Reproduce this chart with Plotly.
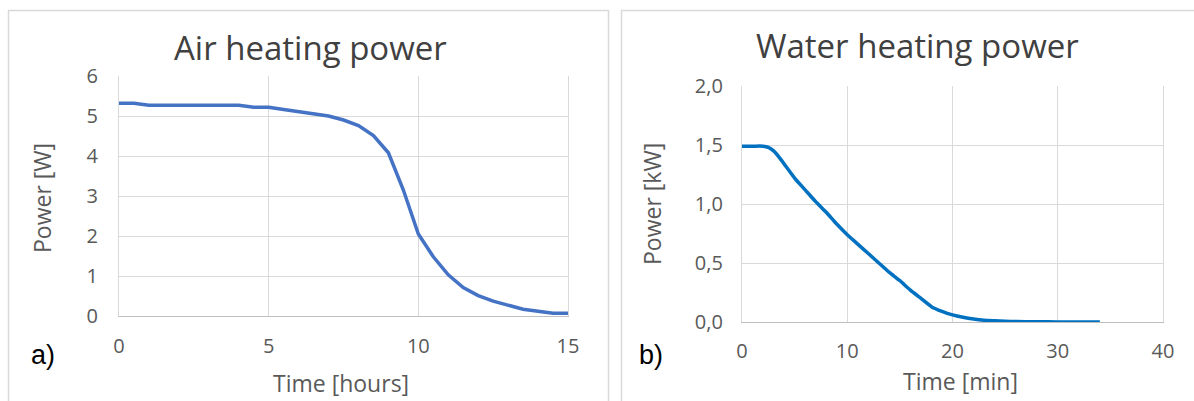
import plotly.graph_objects as go

W, H = 1194, 401

# ---- data ----
air_time_h = [0, 0.5, 1, 1.5, 2, 2.5, 3, 3.5, 4, 4.5, 5, 5.5, 6, 6.5, 7, 7.5, 8, 8.5, 9,
              9.5, 10, 10.5, 11, 11.5, 12, 12.5, 13, 13.5, 14, 14.5, 15]
air_power_w = [5.32, 5.32, 5.27, 5.27, 5.27, 5.27, 5.27, 5.27, 5.27, 5.22, 5.22, 5.16, 5.11, 5.06, 5.0,
               4.9, 4.76, 4.51, 4.08, 3.15, 2.05, 1.48, 1.03, 0.71, 0.51, 0.37, 0.26, 0.17, 0.12, 0.07, 0.07]

water_time_min = [0, 1, 2, 2.5, 3, 3.5, 4, 5, 6, 7, 8, 9, 10, 11, 12, 13, 14, 15, 16, 17,
                  18, 19, 20, 21, 22, 23, 24, 25, 26, 28, 30, 32, 34]
water_power_kw = [1.49, 1.49, 1.49, 1.48, 1.45, 1.40, 1.34, 1.22, 1.12, 1.02, 0.93, 0.83, 0.74, 0.66,
                  0.58, 0.50, 0.42, 0.35, 0.27, 0.20, 0.13, 0.09, 0.06, 0.04, 0.025, 0.015, 0.01,
                  0.006, 0.004, 0.002, 0.001, 0.0, 0.0]

air_xticks = [0, 5, 10, 15]
air_yticks = [0, 1, 2, 3, 4, 5, 6]
water_xticks = [0, 10, 20, 30, 40]
water_yticks = [0.0, 0.5, 1.0, 1.5, 2.0]


def px_x(p):
    return p / W


def px_y(p):
    return 1 - p / H


FONT = "Open Sans"
GRID = "#D9D9D9"
TICKC = "#595959"

fig = go.Figure()
fig.add_trace(go.Scatter(x=air_time_h, y=air_power_w, mode="lines",
                         line=dict(color="#4472C4", width=3.5), xaxis="x", yaxis="y",
                         showlegend=False, hoverinfo="skip"))
fig.add_trace(go.Scatter(x=water_time_min, y=water_power_kw, mode="lines",
                         line=dict(color="#0070C0", width=3.5, shape="spline", smoothing=0.6),
                         xaxis="x2", yaxis="y2", showlegend=False, hoverinfo="skip"))

ax_common = dict(showgrid=True, gridcolor=GRID, gridwidth=1.2, zeroline=False,
                 tickfont=dict(family=FONT, size=20, color=TICKC), ticks="", fixedrange=True,
                 automargin=False)

fig.update_layout(
    autosize=True, margin=dict(l=0, r=0, t=0, b=0, pad=0),
    paper_bgcolor="white", plot_bgcolor="white",
    separators=", ",
    xaxis=dict(domain=[px_x(119), px_x(568)], range=[0, 15], tickvals=air_xticks,
               anchor="y", showline=True, linecolor="#BFBFBF", linewidth=1.2,
               ticklabelstandoff=12, **ax_common),
    yaxis=dict(domain=[px_y(316), px_y(76)], range=[0, 6], tickvals=air_yticks,
               anchor="x", showline=True, mirror=True, linecolor=GRID, linewidth=1.2,
               ticklabelstandoff=16, **ax_common),
    xaxis2=dict(domain=[px_x(742), px_x(1163)], range=[0, 40], tickvals=water_xticks,
                anchor="y2", showline=True, linecolor="#BFBFBF", linewidth=1.2,
                ticklabelstandoff=11, **ax_common),
    yaxis2=dict(domain=[px_y(322), px_y(86)], range=[0, 2], tickvals=water_yticks,
                tickformat=".1f", anchor="x2", showline=True, mirror=True, linecolor=GRID,
                linewidth=1.2, ticklabelstandoff=14, **ax_common),
)

# panel borders
for x0, x1 in [(8.5, 608.5), (621.5, 1200)]:
    fig.add_shape(type="rect", xref="paper", yref="paper",
                  x0=px_x(x0), x1=px_x(x1), y0=px_y(10.5), y1=-0.05,
                  line=dict(color="#D9D9D9", width=1.5), fillcolor="rgba(0,0,0,0)", layer="below")

def ann(text, x, y, size, color, family=FONT, angle=0):
    fig.add_annotation(text=text, x=px_x(x), y=px_y(y), xref="paper", yref="paper",
                       showarrow=False, xanchor="center", yanchor="middle",
                       font=dict(family=family, size=size, color=color), textangle=angle)

ann("Air heating power", 310, 48, 33, "#404040")
ann("Water heating power", 917, 45, 33, "#404040")
ann("Power [W]", 42, 198, 23, TICKC, angle=-90)
ann("Power [kW]", 652, 204, 23, TICKC, angle=-90)
ann("Time [hours]", 341, 383, 23, TICKC)
ann("Time [min]", 960, 381, 23, TICKC)
ann("a)", 43, 355, 27, "#000000", family="Liberation Sans")
ann("b)", 651, 355, 27, "#000000", family="Liberation Sans")

fig.write_html(
    "out.html",
    config={"displayModeBar": False, "responsive": True},
    default_width="100vw", default_height="100vh",
    post_script=("document.body.style.margin='0';document.body.style.overflow='hidden';"
                 "Plotly.Plots.resize(document.getElementById('{plot_id}'));"),
)
